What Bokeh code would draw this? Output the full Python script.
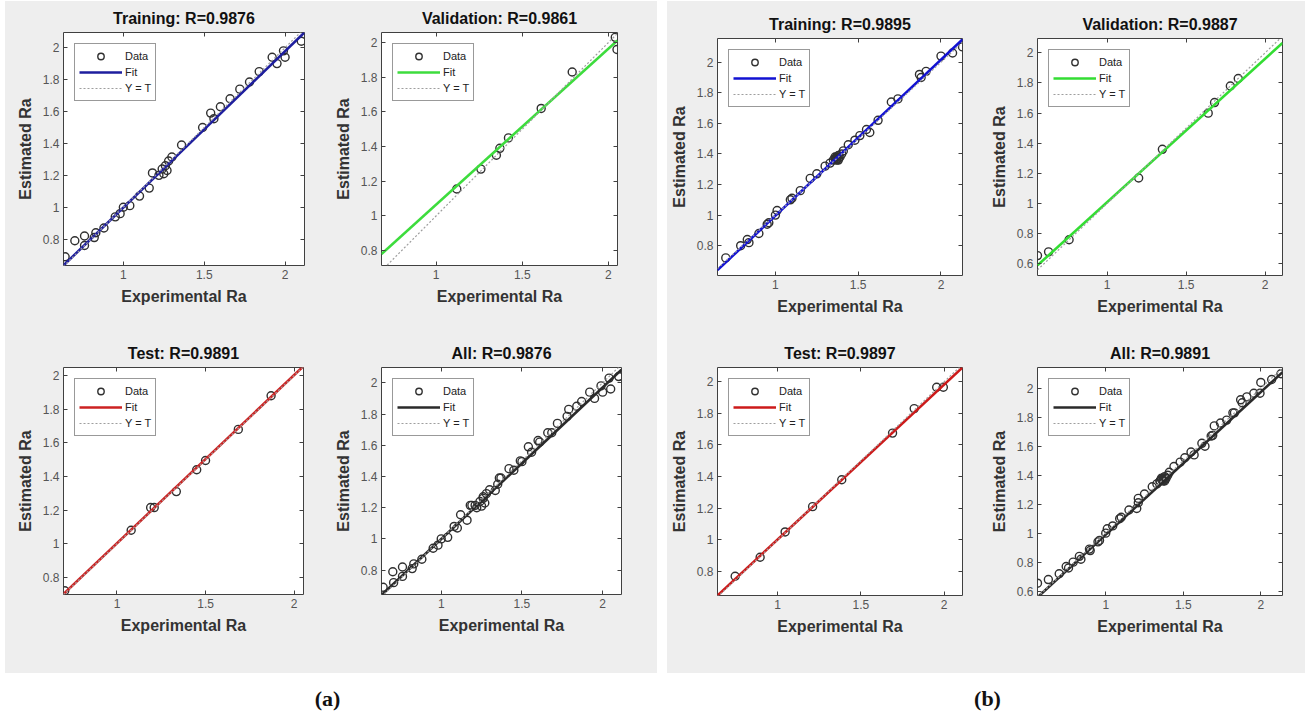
import numpy as np
from bokeh.plotting import figure
from bokeh.models import (Range1d, FixedTicker, LinearAxis, Legend, LegendItem,
                          Label, Spacer, CustomJSTickFormatter)
from bokeh.layouts import row, column
from bokeh.embed import file_html
from bokeh.resources import INLINE

# ---------------- data ----------------
x_ticks = [1, 1.5, 2]
y_ticks = [0.6, 0.8, 1, 1.2, 1.4, 1.6, 1.8, 2]

# (a) model
train_a_T = [0.64, 0.70, 0.76, 0.76, 0.82, 0.83, 0.88, 0.95, 0.98, 1.00, 1.04, 1.10, 1.16, 1.18, 1.22,
             1.24, 1.25, 1.26, 1.27, 1.28, 1.30, 1.36, 1.49, 1.54, 1.56, 1.60, 1.66, 1.72, 1.78, 1.84,
             1.92, 1.95, 1.99, 2.00, 2.10]
train_a_Y = [0.69, 0.79, 0.82, 0.76, 0.81, 0.84, 0.87, 0.94, 0.96, 1.00, 1.01, 1.07, 1.12, 1.215, 1.20,
             1.24, 1.21, 1.26, 1.23, 1.29, 1.315, 1.39, 1.50, 1.59, 1.555, 1.63, 1.68, 1.74, 1.785, 1.85,
             1.94, 1.90, 1.98, 1.94, 2.04]
val_a_T = [1.12, 1.26, 1.35, 1.37, 1.42, 1.61, 1.79, 2.04, 2.05]
val_a_Y = [1.155, 1.27, 1.35, 1.39, 1.45, 1.62, 1.83, 2.03, 1.96]
test_a_T = [0.705, 1.08, 1.19, 1.21, 1.335, 1.45, 1.50, 1.685, 1.87]
test_a_Y = [0.72, 1.08, 1.215, 1.215, 1.31, 1.44, 1.495, 1.68, 1.88]

# (b) model
train_b_T = [0.70, 0.79, 0.83, 0.84, 0.90, 0.95, 0.96, 1.00, 1.01, 1.09, 1.10, 1.15, 1.21, 1.25, 1.30,
             1.33, 1.35, 1.36, 1.36, 1.37, 1.37, 1.37, 1.38, 1.38, 1.38, 1.39, 1.40, 1.41, 1.44, 1.48,
             1.51, 1.55, 1.57, 1.62, 1.70, 1.74, 1.87, 1.88, 1.91, 2.00, 2.07, 2.13]
train_b_Y = [0.72, 0.80, 0.84, 0.82, 0.88, 0.94, 0.95, 1.00, 1.03, 1.10, 1.11, 1.16, 1.24, 1.27, 1.32,
             1.34, 1.36, 1.38, 1.37, 1.37, 1.36, 1.38, 1.36, 1.39, 1.37, 1.38, 1.40, 1.42, 1.46, 1.49,
             1.52, 1.56, 1.54, 1.62, 1.74, 1.76, 1.92, 1.90, 1.94, 2.04, 2.06, 2.10]
val_b_T = [0.56, 0.63, 0.76, 1.20, 1.35, 1.64, 1.68, 1.78, 1.83]
val_b_Y = [0.655, 0.68, 0.76, 1.17, 1.36, 1.60, 1.67, 1.78, 1.83]
test_b_T = [0.745, 0.895, 1.045, 1.21, 1.385, 1.69, 1.82, 1.955, 1.995]
test_b_Y = [0.77, 0.89, 1.05, 1.21, 1.38, 1.675, 1.83, 1.965, 1.965]

# regression fits (slope, intercept) and R values
fits = {
    "a_train": (0.98, 0.018), "a_val": (0.90, 0.165), "a_test": (1.0, 0.003), "a_all": (0.971, 0.028),
    "b_train": (1.02, -0.023), "b_val": (0.952, 0.057), "b_test": (0.98, 0.022), "b_all": (0.983, 0.007),
}
r_values = {
    "a_train": "0.9876", "a_val": "0.9861", "a_test": "0.9891", "a_all": "0.9876",
    "b_train": "0.9895", "b_val": "0.9887", "b_test": "0.9897", "b_all": "0.9891",
}

# ---------------- styling ----------------
GRAY = "#eeeeee"
FONT = "Liberation Sans"
FRAME = "#404040"
EQ_COLOR = "#9e9e9e"


def panel(title, T, Y, fit, xr, yr, color, w, h, bl, fw, bt, fh):
    br = w - bl - fw
    bb = h - bt - fh
    p = figure(width=w, height=h, x_range=Range1d(*xr), y_range=Range1d(*yr),
               output_backend="svg", toolbar_location=None, title=title,
               min_border_left=bl, min_border_right=br, min_border_top=bt, min_border_bottom=bb,
               background_fill_color="white", border_fill_color=GRAY,
               outline_line_color=FRAME, outline_line_width=1)
    p.grid.visible = False
    fmt = CustomJSTickFormatter(code="return String(tick);")
    xa = p.below[0]
    ya = p.left[0]
    xa.ticker = FixedTicker(ticks=x_ticks)
    ya.ticker = FixedTicker(ticks=y_ticks)
    xa.axis_label = "Experimental Ra"
    ya.axis_label = "Estimated Ra"
    for ax in (xa, ya):
        ax.formatter = fmt
        ax.major_tick_in = 4
        ax.major_tick_out = 0
        ax.major_tick_line_color = FRAME
        ax.minor_tick_line_color = None
        ax.axis_line_color = None
        ax.major_label_text_font = FONT
        ax.major_label_text_font_size = "12px"
        ax.major_label_text_color = "#555555"
        ax.major_label_standoff = 4
        ax.axis_label_text_font = FONT
        ax.axis_label_text_font_style = "bold"
        ax.axis_label_text_font_size = "16px"
        ax.axis_label_text_color = "#333333"
        ax.axis_label_standoff = 6
    blank = CustomJSTickFormatter(code="return '';")
    for loc, tks in (("above", x_ticks), ("right", y_ticks)):
        ax = LinearAxis(ticker=FixedTicker(ticks=tks), formatter=blank,
                        major_tick_in=4, major_tick_out=0, major_tick_line_color=FRAME,
                        minor_tick_line_color=None, axis_line_color=None,
                        major_label_standoff=0, major_label_text_font_size="1px")
        p.add_layout(ax, loc)

    p.title.text_font = FONT
    p.title.text_font_size = "16px"
    p.title.text_font_style = "bold"
    p.title.text_color = "#111111"
    p.title.align = "center"
    p.title.standoff = 11

    xl = np.array(xr, dtype=float)
    m, b = fit
    r_data = p.scatter(T, Y, marker="circle", size=8, fill_color=None,
                       line_color="#303030", line_width=1.4)
    r_fit = p.line(xl, m * xl + b, line_color=color, line_width=2.6)
    r_eq = p.line(xl, xl, line_color=EQ_COLOR, line_width=1.2, line_dash="2 2")

    legend = Legend(items=[LegendItem(label="Data", renderers=[r_data]),
                           LegendItem(label="Fit", renderers=[r_fit]),
                           LegendItem(label="Y = T", renderers=[r_eq])],
                    location="top_left")
    legend.margin = 11
    legend.padding = 4
    legend.spacing = 0
    legend.glyph_width = 43
    legend.glyph_height = 16
    legend.label_height = 16
    legend.label_standoff = 3
    legend.label_text_font = FONT
    legend.label_text_font_size = "11px"
    legend.label_text_color = "#222222"
    legend.border_line_color = "#333333"
    legend.border_line_width = 1
    legend.background_fill_color = "white"
    legend.background_fill_alpha = 1.0
    p.add_layout(legend)
    return p


all_a_T = train_a_T + val_a_T + test_a_T
all_a_Y = train_a_Y + val_a_Y + test_a_Y
all_b_T = train_b_T + val_b_T + test_b_T
all_b_Y = train_b_Y + val_b_Y + test_b_Y

H = 336
WA = 326
WB = 319
fa1 = panel("Training: R=" + r_values["a_train"], train_a_T, train_a_Y, fits["a_train"],
            (0.63, 2.12), (0.635, 2.095), "#1e1e9e", WA, H, 58, 241, 31, 233)
fa2 = panel("Validation: R=" + r_values["a_val"], val_a_T, val_a_Y, fits["a_val"],
            (0.683, 2.053), (0.714, 2.058), "#3ddc3d", WA, H, 46, 240, 31, 233)
fa3 = panel("Test: R=" + r_values["a_test"], test_a_T, test_a_Y, fits["a_test"],
            (0.698, 2.053), (0.698, 2.048), "#cc2222", WA, H, 58, 240, 24, 233)
fa4 = panel("All: R=" + r_values["a_all"], all_a_T, all_a_Y, fits["a_all"],
            (0.63, 2.117), (0.644, 2.098), "#2a2a2a", WA, H, 46, 244, 24, 233)

fb1 = panel("Training: R=" + r_values["b_train"], train_b_T, train_b_Y, fits["b_train"],
            (0.65, 2.13), (0.605, 2.155), "#1212d2", WB, H, 50, 245, 37, 238)
fb2 = panel("Validation: R=" + r_values["b_val"], val_b_T, val_b_Y, fits["b_val"],
            (0.56, 2.11), (0.523, 2.095), "#33dd33", WB, H, 51, 245, 36, 238)
fb3 = panel("Test: R=" + r_values["b_test"], test_b_T, test_b_Y, fits["b_test"],
            (0.639, 2.11), (0.648, 2.09), "#cc1a1a", WB, H, 50, 245, 27, 231)
fb4 = panel("All: R=" + r_values["b_all"], all_b_T, all_b_Y, fits["b_all"],
            (0.56, 2.14), (0.57, 2.143), "#2a2a2a", WB, H, 51, 245, 27, 231)

bg = {"background-color": GRAY}
pa = column(row(fa1, fa2, styles=bg), row(fa3, fa4, styles=bg), styles=bg)
pb = column(row(fb1, fb2, styles=bg), row(fb3, fb4, styles=bg), styles=bg)
top = row(Spacer(width=5, height=2 * H), pa, Spacer(width=10, height=2 * H), pb)

LW = 2 * WA + 10 + 2 * WB
LH = 40
lab = figure(width=LW, height=LH, x_range=Range1d(0, LW), y_range=Range1d(0, LH),
             output_backend="svg", toolbar_location=None, x_axis_type=None, y_axis_type=None,
             min_border=0, outline_line_color=None, background_fill_color="white",
             border_fill_color="white")
lab.grid.visible = False
for txt, xpos in (("(a)", 322), ("(b)", 982)):
    lab.add_layout(Label(x=xpos, y=15, x_units="screen", y_units="screen", text=txt,
                         text_font="Liberation Serif", text_font_style="bold",
                         text_font_size="22px", text_align="center", text_baseline="middle",
                         text_color="#111111"))

final = column(Spacer(width=10, height=1), top, row(Spacer(width=5, height=LH), lab))
open("out.html", "w").write(file_html(final, INLINE))
